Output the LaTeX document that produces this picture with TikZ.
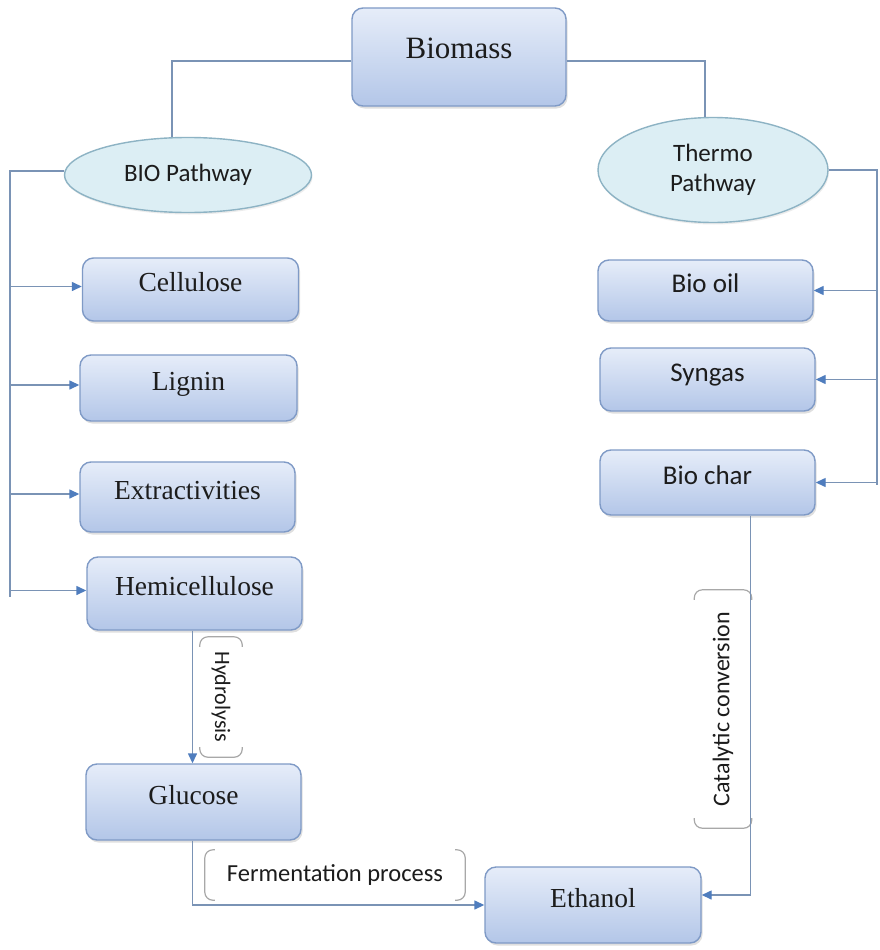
\documentclass[tikz,border=0pt]{standalone}
\usepackage{fontspec}
\setmainfont{Liberation Serif}
\newfontfamily\calib{Carlito}
\usetikzlibrary{arrows.meta,shadows,calc,shapes.geometric}

\definecolor{linec}{HTML}{7A93B5}
\definecolor{tipc}{HTML}{4F7DBE}
\definecolor{boxtop}{HTML}{E6EDF9}
\definecolor{boxbot}{HTML}{B3C6E8}
\definecolor{boxedge}{HTML}{7F9AC6}
\definecolor{ellfill}{HTML}{DCEEF4}
\definecolor{elledge}{HTML}{8DB3C4}
\definecolor{brkc}{HTML}{A8A8A8}
\definecolor{txt}{HTML}{1C1C1C}

% double bracket drawn on the west and east sides of a (possibly rotated) node
\newcommand\dblbracket[1]{%
  \draw[brk] ($(#1.north west)!10pt!(#1.north east)$) -- (#1.north west)
     -- (#1.south west) -- ($(#1.south west)!10pt!(#1.south east)$);
  \draw[brk] ($(#1.north east)!10pt!(#1.north west)$) -- (#1.north east)
     -- (#1.south east) -- ($(#1.south east)!10pt!(#1.south west)$);}

\begin{document}
\begin{tikzpicture}[x=1pt,y=-1pt,
  box/.style={rectangle, rounded corners=11pt, draw=boxedge, line width=1.4pt,
    top color=boxtop, bottom color=boxbot,
    drop shadow={opacity=0.25, shadow xshift=1.5pt, shadow yshift=-2.5pt},
    text=txt, text height=20pt, text depth=16pt, inner sep=0pt},
  serifbox/.style={box, font=\fontsize{27.5}{30}\selectfont},
  sansbox/.style={box, font=\calib\fontsize{27}{30}\selectfont},
  pathway/.style={ellipse, draw=elledge, line width=1.4pt, fill=ellfill,
    text=txt, font=\calib\fontsize{25}{30}\selectfont, align=center, inner sep=0pt,
    drop shadow={opacity=0.15, shadow xshift=1pt, shadow yshift=-2pt}},
  conn/.style={draw=linec, line width=1.4pt},
  arr/.style={conn, -{Triangle[length=10pt,width=9pt,color=tipc]}},
  brk/.style={draw=brkc, line width=1.2pt, rounded corners=8pt},
  steplbl/.style={text=txt, font=\calib\fontsize{22}{26}\selectfont, inner sep=0pt},
]
\useasboundingbox[fill=white] (0,0) rectangle (879,950);

% top node and the two pathways
\node[serifbox, minimum width=214pt, minimum height=98pt, font=\fontsize{31}{34}\selectfont] (bm) at (459,57) {Biomass};
\node[pathway, minimum width=247pt, minimum height=75pt] (bio) at (188,175) {BIO Pathway};
\node[pathway, minimum width=230pt, minimum height=105pt] (thermo) at (713,170) {Thermo\\Pathway};

% biological products
\node[serifbox, minimum width=216pt, minimum height=63pt] (cell) at (190.5,289.5) {Cellulose};
\node[serifbox, minimum width=217pt, minimum height=66pt] (lig) at (188.5,388) {Lignin};
\node[serifbox, minimum width=215pt, minimum height=70pt] (ext) at (187.5,497) {Extractivities};
\node[serifbox, minimum width=215pt, minimum height=73pt] (hemi) at (194.5,593.5) {Hemicellulose};
\node[serifbox, minimum width=215pt, minimum height=76pt] (glu) at (193.5,802) {Glucose};
\node[serifbox, minimum width=216pt, minimum height=76pt] (eth) at (593,905) {Ethanol};

% thermochemical products
\node[sansbox, minimum width=215pt, minimum height=61pt] (oil) at (705.5,290.5) {Bio oil};
\node[sansbox, minimum width=215pt, minimum height=63pt] (syn) at (707.5,379.5) {Syngas};
\node[sansbox, minimum width=215pt, minimum height=65pt] (bc) at (707.5,482.5) {Bio char};

% process labels with double brackets
\node[steplbl, rotate=-90, minimum width=120pt, minimum height=42pt] (hyd) at (221,697) {Hydrolysis};
\node[steplbl, rotate=90, minimum width=238pt, minimum height=57pt, font=\calib\fontsize{24}{26}\selectfont] (cat) at (723,709) {Catalytic conversion};
\node[steplbl, minimum width=260pt, minimum height=50pt, font=\calib\fontsize{24.5}{26}\selectfont] (fer) at (335,875) {Fermentation process};
\dblbracket{hyd}
\dblbracket{cat}
\dblbracket{fer}

% connectors from the top node
\draw[conn] ([yshift=-4pt]bm.west) -| ([xshift=-16pt]bio.north);
\draw[conn] ([yshift=-4pt]bm.east) -| ([xshift=-8pt]thermo.north);

% left bus
\coordinate (lbus) at (10,597);
\draw[conn] ([yshift=4pt]bio.west) -| (lbus);
\foreach \b in {cell,lig,ext,hemi} \draw[arr] ([yshift=3pt]\b.west -| lbus) -- ([yshift=3pt]\b.west);

% right bus
\coordinate (rbus) at (877,485);
\draw[conn] (thermo.east) -| (rbus);
\foreach \b in {oil,syn,bc} \draw[arr] (\b.east -| rbus) -- (\b.east);

% conversion routes to ethanol
\draw[arr] ([xshift=-2pt]hemi.south) -- ([xshift=-2pt]hemi.south |- glu.north);
\draw[arr] ([xshift=-1pt]glu.south) |- (eth.west);
\coordinate (bcdrop) at ($(bc.south west)!0.7!(bc.south east)$);
\draw[arr] (bcdrop) |- ([yshift=10pt]eth.east);
\end{tikzpicture}
\end{document}
